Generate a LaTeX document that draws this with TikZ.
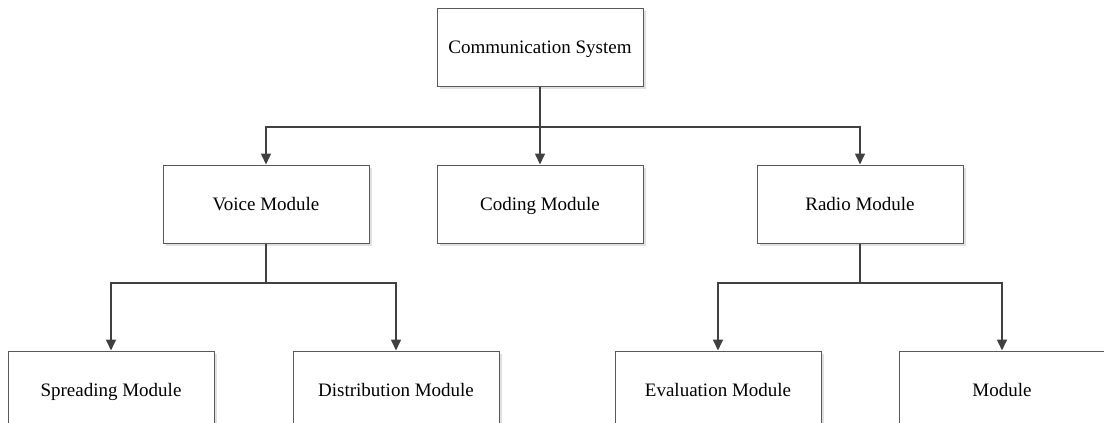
\documentclass[tikz,border=0pt]{standalone}
\usepackage{fontspec}
\setmainfont{Liberation Serif}
\usetikzlibrary{arrows.meta,shadows}

\begin{document}
\begin{tikzpicture}[x=1pt,y=-1pt,
  box/.style={draw=black!65,line width=1pt,fill=white,minimum width=206pt,minimum height=78pt,
    inner sep=0pt,text height=13pt,text depth=1pt,font=\fontsize{19}{23}\selectfont,
    drop shadow={shadow xshift=2.5pt,shadow yshift=-2.5pt,fill=black!12,opacity=1}},
  link/.style={draw=black!75,line width=1.6pt,-{Triangle[length=11pt,width=10pt]}}]
\useasboundingbox (0,0) rectangle (1104,423);

\node[box] (sys)    at (540,47)  {Communication System};
\node[box] (voice)  at (266,204) {Voice Module};
\node[box] (coding) at (540,204) {Coding Module};
\node[box] (radio)  at (860,204) {Radio Module};
\node[box] (spread) at (111,390) {Spreading Module};
\node[box] (distr)  at (396,390) {Distribution Module};
\node[box] (eval)   at (718,390) {Evaluation Module};
\node[box] (mod)    at (1002,390) {Module};

\coordinate (bus1) at (540,127);
\coordinate (bus2) at (266,283);
\coordinate (bus3) at (860,283);

\draw [link] (sys.south) -- (coding.north);
\draw [link] (sys.south) -- (bus1) -| (voice.north);
\draw [link] (sys.south) -- (bus1) -| (radio.north);
\draw [link] (voice.south) -- (bus2) -| (spread.north);
\draw [link] (voice.south) -- (bus2) -| (distr.north);
\draw [link] (radio.south) -- (bus3) -| (eval.north);
\draw [link] (radio.south) -- (bus3) -| (mod.north);

\end{tikzpicture}
\end{document}
